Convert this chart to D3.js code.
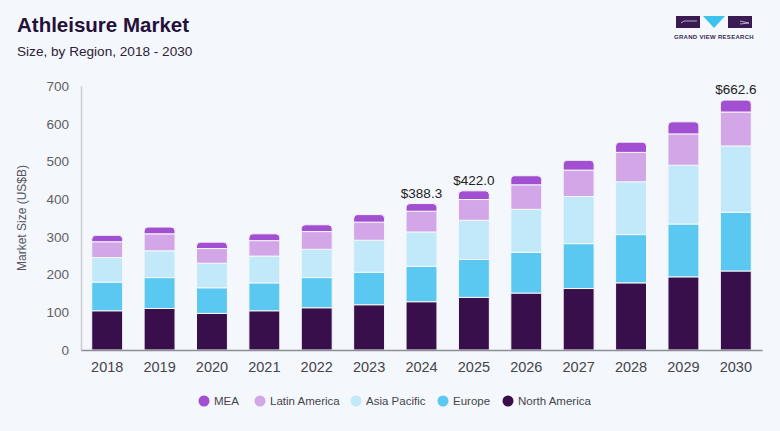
<!DOCTYPE html>
<html>
<head>
<meta charset="utf-8">
<script src="https://cdn.jsdelivr.net/npm/d3@7"></script>
<style>
  html, body { margin: 0; padding: 0; background: #f4f7fb; }
  svg { display: block; font-family: "Liberation Sans", Arial, sans-serif; }
</style>
</head>
<body>
<svg id="chart" width="780" height="431"></svg>
<script>
// values (US$B)
const years = ["2018","2019","2020","2021","2022","2023","2024","2025","2026","2027","2028","2029","2030"];
const northAmerica = [104, 110, 97, 104, 112, 120, 128, 139.5, 151, 163, 178, 194, 209.5];
const europe       = [76, 82, 68, 74, 80, 86, 94, 100.5, 108, 119, 128, 140, 156];
const asiaPacific  = [65, 71, 65, 71, 75, 85, 91, 104, 114, 125, 140, 156, 175.5];
const latinAmerica = [42, 45, 39, 41, 47, 48, 55, 55, 65, 70, 78, 83, 90];
const mea          = [17, 18, 17, 18, 18, 20, 20.3, 23, 24, 26, 27, 32, 31.6];
const labelled = {"2024": "$388.3", "2025": "$422.0", "2030": "$662.6"};
const yTicks = [0, 100, 200, 300, 400, 500, 600, 700];

const regions = ["North America", "Europe", "Asia Pacific", "Latin America", "MEA"];
const colors = {
  "North America": "#380f4a",
  "Europe": "#5ac8f1",
  "Asia Pacific": "#c2e9f9",
  "Latin America": "#d2a6e7",
  "MEA": "#a24fd1"
};

const rows = years.map((y, i) => ({
  year: y,
  "North America": northAmerica[i],
  "Europe": europe[i],
  "Asia Pacific": asiaPacific[i],
  "Latin America": latinAmerica[i],
  "MEA": mea[i]
}));

const svg = d3.select("#chart");
svg.append("rect").attr("width", 780).attr("height", 431).attr("fill", "#f4f7fb");

// title
svg.append("text").attr("x", 17).attr("y", 32)
  .style("font-size", "20.5px").style("font-weight", "bold").attr("fill", "#24123a")
  .text("Athleisure Market");
svg.append("text").attr("x", 17).attr("y", 56)
  .style("font-size", "13.6px").attr("fill", "#2e2238")
  .text("Size, by Region, 2018 - 2030");

// logo
const logo = svg.append("g");
logo.append("rect").attr("x", 676).attr("y", 16).attr("width", 24).attr("height", 12).attr("fill", "#3a1a52");
logo.append("path").attr("d", "M703,16 L725,16 L714,28 Z").attr("fill", "#3bc3ee");
logo.append("rect").attr("x", 728).attr("y", 16).attr("width", 24).attr("height", 12).attr("fill", "#3a1a52");
logo.append("path").attr("d", "M681,23 L684,21 L697,21").attr("stroke", "#d9d0e3").attr("stroke-width", 0.8).attr("fill", "none");
logo.append("path").attr("d", "M740,21 L749,23 L740,24").attr("stroke", "#d9d0e3").attr("stroke-width", 0.8).attr("fill", "none");
logo.append("text").attr("x", 714).attr("y", 39).attr("text-anchor", "middle")
  .style("font-size", "6px").style("font-weight", "bold").style("letter-spacing", "0.3px")
  .attr("fill", "#3a2a50").text("GRAND VIEW RESEARCH");

var margin = {top: 86, left: 81, bottom: 350, right: 762};

var x = d3.scaleBand().domain(years).range([margin.left, margin.right]).paddingInner(0.41).paddingOuter(0.205);
var y = d3.scaleLinear().domain([0, 700]).range([margin.bottom, margin.top]);

// y axis
var yAxis = svg.append("g").attr("transform", `translate(${margin.left},0)`)
  .call(d3.axisLeft(y).tickValues(yTicks).tickSize(0).tickPadding(12));
yAxis.select(".domain").attr("stroke", "#c9ccd2").attr("stroke-width", 1.5);
yAxis.selectAll("text").style("font-size", "13.5px").attr("fill", "#5f5f66").style("font-family", "Liberation Sans, Arial, sans-serif");

svg.append("text")
  .attr("transform", `translate(26, ${(margin.top + margin.bottom) / 2}) rotate(-90)`)
  .attr("text-anchor", "middle")
  .style("font-size", "12px").attr("fill", "#55555c")
  .text("Market Size (US$B)");

// stacked bars
var stack = d3.stack().keys(regions)(rows);

stack.forEach(layer => {
  const key = layer.key;
  const top = key === "MEA";
  svg.append("g").selectAll("path").data(layer).join("path")
    .attr("fill", colors[key])
    .attr("stroke", "#f4f7fb").attr("stroke-width", 1)
    .attr("d", d => {
      const x0 = x(d.data.year), w = x.bandwidth();
      const y0 = y(d[0]), y1 = y(d[1]);
      const r = top ? 4 : 0;
      return `M${x0},${y0} L${x0},${y1 + r} Q${x0},${y1} ${x0 + r},${y1} L${x0 + w - r},${y1} Q${x0 + w},${y1} ${x0 + w},${y1 + r} L${x0 + w},${y0} Z`;
    });
});

// x axis
var xAxis = svg.append("g").attr("transform", `translate(0,${margin.bottom})`)
  .call(d3.axisBottom(x).tickSize(0).tickPadding(12));
xAxis.select(".domain").attr("stroke", "#8d8f96").attr("stroke-width", 1.5);
xAxis.selectAll("text").style("font-size", "14.5px").attr("fill", "#45454c").style("font-family", "Liberation Sans, Arial, sans-serif");

// total labels
rows.forEach((r, i) => {
  if (labelled[r.year]) {
    const total = regions.reduce((s, k) => s + r[k], 0);
    svg.append("text")
      .attr("x", x(r.year) + x.bandwidth() / 2)
      .attr("y", y(total) - 6)
      .attr("text-anchor", "middle")
      .style("font-size", "13.5px").attr("fill", "#222")
      .text(labelled[r.year]);
  }
});

// legend
const legendItems = [
  {name: "MEA", x: 204},
  {name: "Latin America", x: 260},
  {name: "Asia Pacific", x: 356},
  {name: "Europe", x: 443},
  {name: "North America", x: 508}
];
const lg = svg.append("g").selectAll("g").data(legendItems).join("g")
  .attr("transform", d => `translate(${d.x},401)`);
lg.append("circle").attr("r", 5.5).attr("fill", d => colors[d.name]);
lg.append("text").attr("x", 10).attr("dy", "0.35em")
  .style("font-size", "11.5px").attr("fill", "#45454c")
  .text(d => d.name);
</script>
</body>
</html>
